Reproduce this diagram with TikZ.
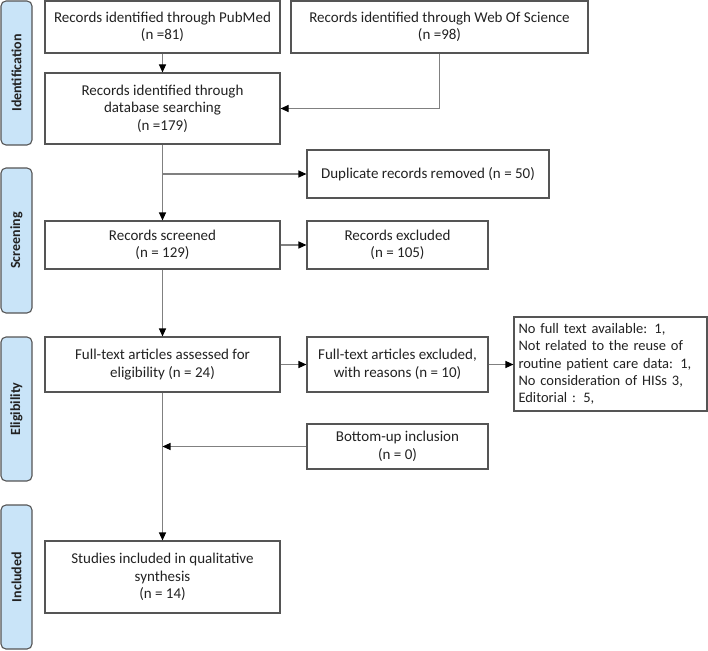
\documentclass[tikz,border=0pt]{standalone}
\usepackage{fontspec}
\setmainfont{Carlito}
\usetikzlibrary{arrows.meta}
\definecolor{sidefill}{HTML}{C9E4F8}
\definecolor{boxline}{HTML}{555555}
\definecolor{conn}{HTML}{808080}
\definecolor{txt}{HTML}{222222}
\begin{document}
\begin{tikzpicture}[x=1pt,y=-1pt,
  box/.style={draw=boxline,line width=1.1pt,fill=white,align=center,inner sep=0pt,
    font=\fontsize{15}{17.5}\selectfont,text=txt},
  sidebar/.style={draw=boxline,line width=1.1pt,fill=sidefill,rounded corners=5pt,
    minimum width=31pt,inner sep=0pt},
  sidetext/.style={rotate=90,font=\fontsize{14}{17}\selectfont\bfseries,text=txt},
  conn/.style={draw=conn,line width=1.1pt},
  arr/.style={conn,-{Triangle[length=8pt,width=7pt,fill=black,color=black]}}]
\useasboundingbox (0,0) rectangle (708,650);
% side bars
\node[sidebar,minimum height=144pt] (sid) at (16.5,73) {};
\node[sidetext] (sidt) at (sid.center) {Identification};
\node[sidebar,minimum height=145pt] (sscr) at (16.5,240.5) {};
\node[sidetext] (sscrt) at (sscr.center) {Screening};
\node[sidebar,minimum height=144pt] (selg) at (16.5,409) {};
\node[sidetext] (selgt) at (selg.center) {Eligibility};
\node[sidebar,minimum height=144pt] (sinc) at (16.5,577) {};
\node[sidetext] (sinct) at (sinc.center) {Included};
% boxes
\node[box,minimum width=235pt,minimum height=52pt] (pub) at (162.5,27)
  {Records identified through PubMed\\(n =81)};
\node[box,minimum width=297pt,minimum height=52pt] (wos) at (439.5,27)
  {Records identified through Web Of Science\\(n =98)};
\node[box,minimum width=235pt,minimum height=71pt] (db) at (162.5,108.5)
  {Records identified through\\database searching\\(n =179)};
\node[box,minimum width=242pt,minimum height=48pt] (dup) at (428,174)
  {Duplicate records removed (n = 50)};
\node[box,minimum width=235pt,minimum height=48pt] (scr) at (162.5,245)
  {Records screened\\(n = 129)};
\node[box,minimum width=181pt,minimum height=48pt] (exc) at (397.5,245)
  {Records excluded\\(n = 105)};
\node[box,minimum width=235pt,minimum height=55pt] (ft) at (162.5,364.5)
  {Full-text articles assessed for\\eligibility (n = 24)};
\node[box,minimum width=181pt,minimum height=55pt] (fte) at (397.5,364.5)
  {Full-text articles excluded,\\with reasons (n = 10)};
\node[box,minimum width=193pt,minimum height=94pt,align=left,text width=184pt,inner xsep=4.5pt,
  font=\fontsize{14.5}{17.2}\selectfont] (rea) at (610.5,364)
  {No full text available: 1,\\Not related to the reuse of\\routine patient care data: 1,\\No consideration of HISs 3,\\Editorial : 5,};
\node[box,minimum width=181pt,minimum height=45pt] (bu) at (397.5,446.5)
  {Bottom-up inclusion\\(n = 0)};
\node[box,minimum width=235pt,minimum height=72pt] (inc) at (162.5,577)
  {Studies included in qualitative\\synthesis\\(n = 14)};
% connectors
\draw[arr] (pub.south) -- (db.north);
\draw[arr] (wos.south) |- (db.east);
\draw[arr] (db.south) -- (scr.north);
\coordinate (dupj) at (db.south |- dup.west);
\draw[arr] (dupj) -- (dup.west);
\draw[arr] (scr.east) -- (exc.west);
\draw[arr] (scr.south) -- (ft.north);
\draw[arr] (ft.east) -- (fte.west);
\draw[arr] (fte.east) -- (fte.east -| rea.west);
\draw[arr] (ft.south) -- (inc.north);
\coordinate (buj) at (ft.south |- bu.west);
\draw[arr] (bu.west) -- (buj);
\end{tikzpicture}
\end{document}
